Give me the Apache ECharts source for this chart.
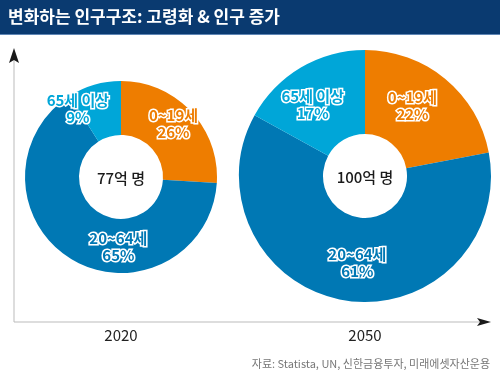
<!DOCTYPE html>
<html><head><meta charset="utf-8">
<script src="https://cdn.jsdelivr.net/npm/echarts/dist/echarts.min.js"></script>
<style>html,body{margin:0;padding:0;background:#fff}#c{width:500px;height:380px}</style>
</head><body><div id="c"></div>
<script>
const titleText = '변화하는 인구구조: 고령화 & 인구 증가';
const categories = ['0~19세', '20~64세', '65세 이상'];
const years = ['2020', '2050'];
const totals = ['77억 명', '100억 명'];
const share2020 = [26, 65, 9];
const share2050 = [22, 61, 17];
const sourceText = '자료: Statista, UN, 신한금융투자, 미래에셋자산운용';

const FONT = '"Noto Sans CJK KR", "Noto Sans", sans-serif';
const colors = ['#EE7D00', '#0078B4', '#00A6D8'];
const centers = [[121, 177], [365, 176]];
const radii = [[42, 96], [42, 126]];
const labelShifts = [
  [[0, -4], [34, 8], [-23, 1]],
  [[-8, -3], [6, 1], [-8, 4]]
];

function makePie(values, k) {
  return {
    type: 'pie', center: centers[k], radius: radii[k], startAngle: 90, clockwise: true,
    silent: true, animation: false, avoidLabelOverlap: false, minShowLabelAngle: 0,
    label: {
      position: 'inside', formatter: p => p.name + '\n' + p.value + '%',
      fontSize: 15, fontWeight: 'bold', lineHeight: 17, fontFamily: FONT,
      textBorderColor: '#fff', textBorderWidth: 3
    },
    labelLine: { show: false },
    labelLayout: p => ({ dx: labelShifts[k][p.dataIndex][0], dy: labelShifts[k][p.dataIndex][1] }),
    data: values.map((v, i) => ({
      name: categories[i], value: v,
      itemStyle: { color: colors[i] },
      label: { color: colors[i] }
    }))
  };
}

const chart = echarts.init(document.getElementById('c'), null, { renderer: 'canvas' });
const graphics = [
  { type: 'rect', shape: { x: 0, y: 0, width: 500, height: 34 }, style: { fill: '#0A3A70' }, silent: true },
  { type: 'rect', shape: { x: 0, y: 34, width: 500, height: 1 }, style: { fill: '#5F86B5' }, silent: true },
  { type: 'text', x: 8, y: 17, style: { text: titleText, fill: '#fff', font: 'bold 17px ' + FONT, verticalAlign: 'middle' } },
  { type: 'line', shape: { x1: 14, y1: 58, x2: 14, y2: 322 }, style: { stroke: '#BBBBBB', lineWidth: 1 } },
  { type: 'line', shape: { x1: 14, y1: 322, x2: 480, y2: 322 }, style: { stroke: '#BBBBBB', lineWidth: 1 } },
  { type: 'polygon', shape: { points: [[14, 48], [19, 63], [14, 60], [9, 63]] }, style: { fill: '#1a1a1a' } },
  { type: 'polygon', shape: { points: [[491, 322], [477, 318], [480, 322], [477, 326]] }, style: { fill: '#1a1a1a' } },
  { type: 'text', x: 490, y: 364, style: { text: sourceText, fill: '#777', font: '11px ' + FONT, align: 'right', verticalAlign: 'middle' } }
];
years.forEach((y, k) => {
  graphics.push({ type: 'text', x: centers[k][0], y: 335, style: { text: y, fill: '#222', font: '15px ' + FONT, align: 'center', verticalAlign: 'middle' } });
  graphics.push({ type: 'text', x: centers[k][0], y: centers[k][1] + 1, z: 10, style: { text: totals[k], fill: '#1a1a1a', font: '500 15px ' + FONT, align: 'center', verticalAlign: 'middle' } });
});

chart.setOption({
  backgroundColor: '#fff',
  animation: false,
  series: [makePie(share2020, 0), makePie(share2050, 1)],
  graphic: graphics
});
</script></body></html>
